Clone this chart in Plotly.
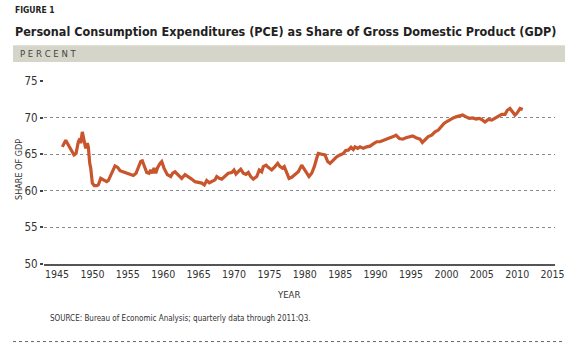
import plotly.graph_objects as go

# ---- data ----
years = [1945.75, 1946.23, 1946.60, 1947.08, 1947.40, 1947.68, 1948.01, 1948.25, 1948.35, 1948.57,
         1948.81, 1949.05, 1949.28, 1949.42, 1949.62, 1949.76, 1949.99, 1950.27, 1950.61, 1950.83,
         1951.17, 1951.54, 1952.02, 1952.25, 1952.73, 1953.19, 1953.57, 1953.90, 1954.60, 1955.31,
         1955.78, 1956.16, 1956.48, 1956.82, 1957.05, 1957.33, 1957.67, 1957.99, 1958.23, 1958.46,
         1958.70, 1958.94, 1959.22, 1959.55, 1959.79, 1960.11, 1960.30, 1960.58, 1961.06, 1961.34,
         1961.67, 1962.13, 1962.61, 1963.08, 1963.55, 1964.02, 1964.49, 1964.96, 1965.44, 1965.81,
         1966.14, 1966.51, 1966.85, 1967.32, 1967.56, 1967.92, 1968.26, 1968.73, 1969.19, 1969.67,
         1970.00, 1970.28, 1970.61, 1970.95, 1971.31, 1971.69, 1972.02, 1972.36, 1972.73, 1973.21,
         1973.57, 1973.91, 1974.14, 1974.52, 1974.84, 1975.32, 1975.79, 1976.17, 1976.50, 1976.82,
         1977.10, 1977.44, 1977.77, 1978.15, 1978.62, 1979.08, 1979.56, 1979.93, 1980.27, 1980.59,
         1980.97, 1981.34, 1981.68, 1981.91, 1982.39, 1982.85, 1983.23, 1983.56, 1984.03, 1984.50,
         1984.97, 1985.44, 1985.78, 1986.14, 1986.53, 1986.85, 1987.09, 1987.47, 1987.80, 1988.26,
         1988.74, 1989.21, 1989.67, 1990.15, 1990.62, 1991.09, 1991.57, 1992.03, 1992.50, 1992.88,
         1993.35, 1993.83, 1994.29, 1994.76, 1995.24, 1995.71, 1996.27, 1996.60, 1996.98, 1997.44,
         1997.92, 1998.39, 1998.86, 1999.24, 1999.66, 2000.13, 2000.61, 2000.97, 2001.36, 2001.82,
         2002.30, 2002.77, 2003.23, 2003.71, 2004.18, 2004.65, 2004.98, 2005.45, 2005.92, 2006.40,
         2006.86, 2007.33, 2007.81, 2008.28, 2008.60, 2008.98, 2009.36, 2009.69, 2010.01, 2010.40,
         2010.78]
pce_share = [66.0, 66.9, 66.25, 65.35, 64.9, 65.1, 66.7, 67.15, 66.5, 68.05,
             66.9, 65.8, 66.5, 66.0, 63.75, 63.1, 61.05, 60.7, 60.7, 60.8,
             61.7, 61.5, 61.25, 61.4, 62.4, 63.4, 63.2, 62.75, 62.5, 62.3,
             62.1, 62.4, 63.1, 64.0, 64.1, 63.3, 62.5, 62.4, 62.85, 62.4,
             63.1, 62.4, 63.2, 63.75, 64.0, 63.1, 62.8, 62.2, 61.95, 62.4,
             62.6, 62.2, 61.7, 62.2, 61.95, 61.6, 61.25, 61.1, 61.05, 60.8,
             61.4, 61.1, 61.25, 61.5, 61.95, 61.7, 61.6, 61.95, 62.4, 62.5,
             62.85, 62.3, 62.6, 62.95, 62.4, 62.25, 62.5, 61.95, 61.6, 61.95,
             62.85, 62.6, 63.3, 63.5, 63.2, 62.85, 63.3, 63.75, 63.3, 63.1,
             63.3, 62.4, 61.7, 61.85, 62.2, 62.6, 63.5, 62.95, 62.4, 61.95,
             62.4, 63.3, 64.45, 65.1, 65.0, 64.9, 64.0, 63.75, 64.2, 64.65,
             64.9, 65.1, 65.5, 65.55, 65.95, 65.65, 66.0, 65.8, 66.0, 65.8,
             66.0, 66.1, 66.4, 66.7, 66.7, 66.9, 67.15, 67.25, 67.4, 67.6,
             67.15, 67.05, 67.25, 67.4, 67.5, 67.25, 67.05, 66.6, 66.95, 67.4,
             67.6, 68.05, 68.3, 68.75, 69.2, 69.5, 69.8, 69.95, 70.1, 70.25,
             70.35, 70.1, 69.9, 69.95, 69.8, 69.9, 69.75, 69.4, 69.75, 69.65,
             69.9, 70.2, 70.45, 70.45, 71.0, 71.25, 70.8, 70.35, 70.65, 71.25,
             71.1]
x_ticks = [1945, 1950, 1955, 1960, 1965, 1970, 1975, 1980, 1985, 1990, 1995, 2000, 2005, 2010, 2015]
y_ticks = [50, 55, 60, 65, 70, 75]

# ---- layout geometry (pixels) ----
W, H = 576, 345
L, R, T, B = 44, 21, 80.5, 80.5
PW, PH = W - L - R, H - T - B

def px(x):
    return (x - L) / PW

def py(y):
    return (H - B - y) / PH

NARROW = "DejaVu Sans Condensed, Liberation Sans Narrow, Arial Narrow, sans-serif"

fig = go.Figure()
fig.add_trace(go.Scatter(
    x=years, y=pce_share, mode="lines",
    line=dict(color="#c8552b", width=3.2),
    showlegend=False, hoverinfo="skip",
))

fig.update_layout(
    width=W, height=H,
    margin=dict(l=L, r=R, t=T, b=B, pad=0),
    paper_bgcolor="white", plot_bgcolor="white",
    font=dict(family=NARROW, color="#333333", size=11),
    xaxis=dict(
        range=[1943.16, 2015.34], tickmode="array", tickvals=x_ticks,
        showgrid=False, zeroline=False,
        showline=True, linecolor="#555555", linewidth=1.5,
        ticks="", tickfont=dict(size=10.5, color="#333333", family=NARROW),
        fixedrange=True,
    ),
    yaxis=dict(
        range=[50, 75], tickmode="array", tickvals=y_ticks,
        showgrid=True, gridcolor="#8a8a8a", gridwidth=1, griddash="dot",
        zeroline=False, showline=False,
        ticks="outside", ticklen=3, tickwidth=2, tickcolor="#444444",
        tickfont=dict(size=11.5, color="#333333", family=NARROW),
        fixedrange=True,
    ),
    shapes=[
        dict(type="rect", xref="paper", yref="paper",
             x0=px(13), x1=px(565), y0=py(61.5), y1=py(44.5),
             fillcolor="#d5d6c9", line=dict(width=0), layer="below"),
        dict(type="line", xref="paper", yref="paper",
             x0=px(13), x1=px(565), y0=py(342.5), y1=py(342.5),
             line=dict(color="#666666", width=1, dash="dot")),
    ],
    annotations=[
        dict(text="<b>FIGURE 1</b>", x=px(13), y=py(9.5), xref="paper", yref="paper",
             xanchor="left", yanchor="middle", showarrow=False,
             font=dict(size=8.5, color="#222222", family=NARROW)),
        dict(text="<b>Personal Consumption Expenditures (PCE) as Share of Gross Domestic Product (GDP)</b>",
             x=px(13), y=py(30.5), xref="paper", yref="paper",
             xanchor="left", yanchor="middle", showarrow=False,
             font=dict(size=12.5, color="#222222", family=NARROW)),
        dict(text="P E R C E N T", x=px(18), y=py(53), xref="paper", yref="paper",
             xanchor="left", yanchor="middle", showarrow=False,
             font=dict(size=9.5, color="#444444", family=NARROW)),
        dict(text="SHARE OF GDP", x=px(19), y=py(170), xref="paper", yref="paper",
             xanchor="center", yanchor="middle", showarrow=False, textangle=-90,
             font=dict(size=9, color="#333333", family=NARROW)),
        dict(text="YEAR", x=px(288), y=py(295.5), xref="paper", yref="paper",
             xanchor="center", yanchor="middle", showarrow=False,
             font=dict(size=9.5, color="#333333", family=NARROW)),
        dict(text="SOURCE: Bureau of Economic Analysis; quarterly data through 2011:Q3.",
             x=px(48), y=py(319.5), xref="paper", yref="paper",
             xanchor="left", yanchor="middle", showarrow=False,
             font=dict(size=8, color="#333333", family=NARROW)),
    ],
)

fig.write_html("out.html")
